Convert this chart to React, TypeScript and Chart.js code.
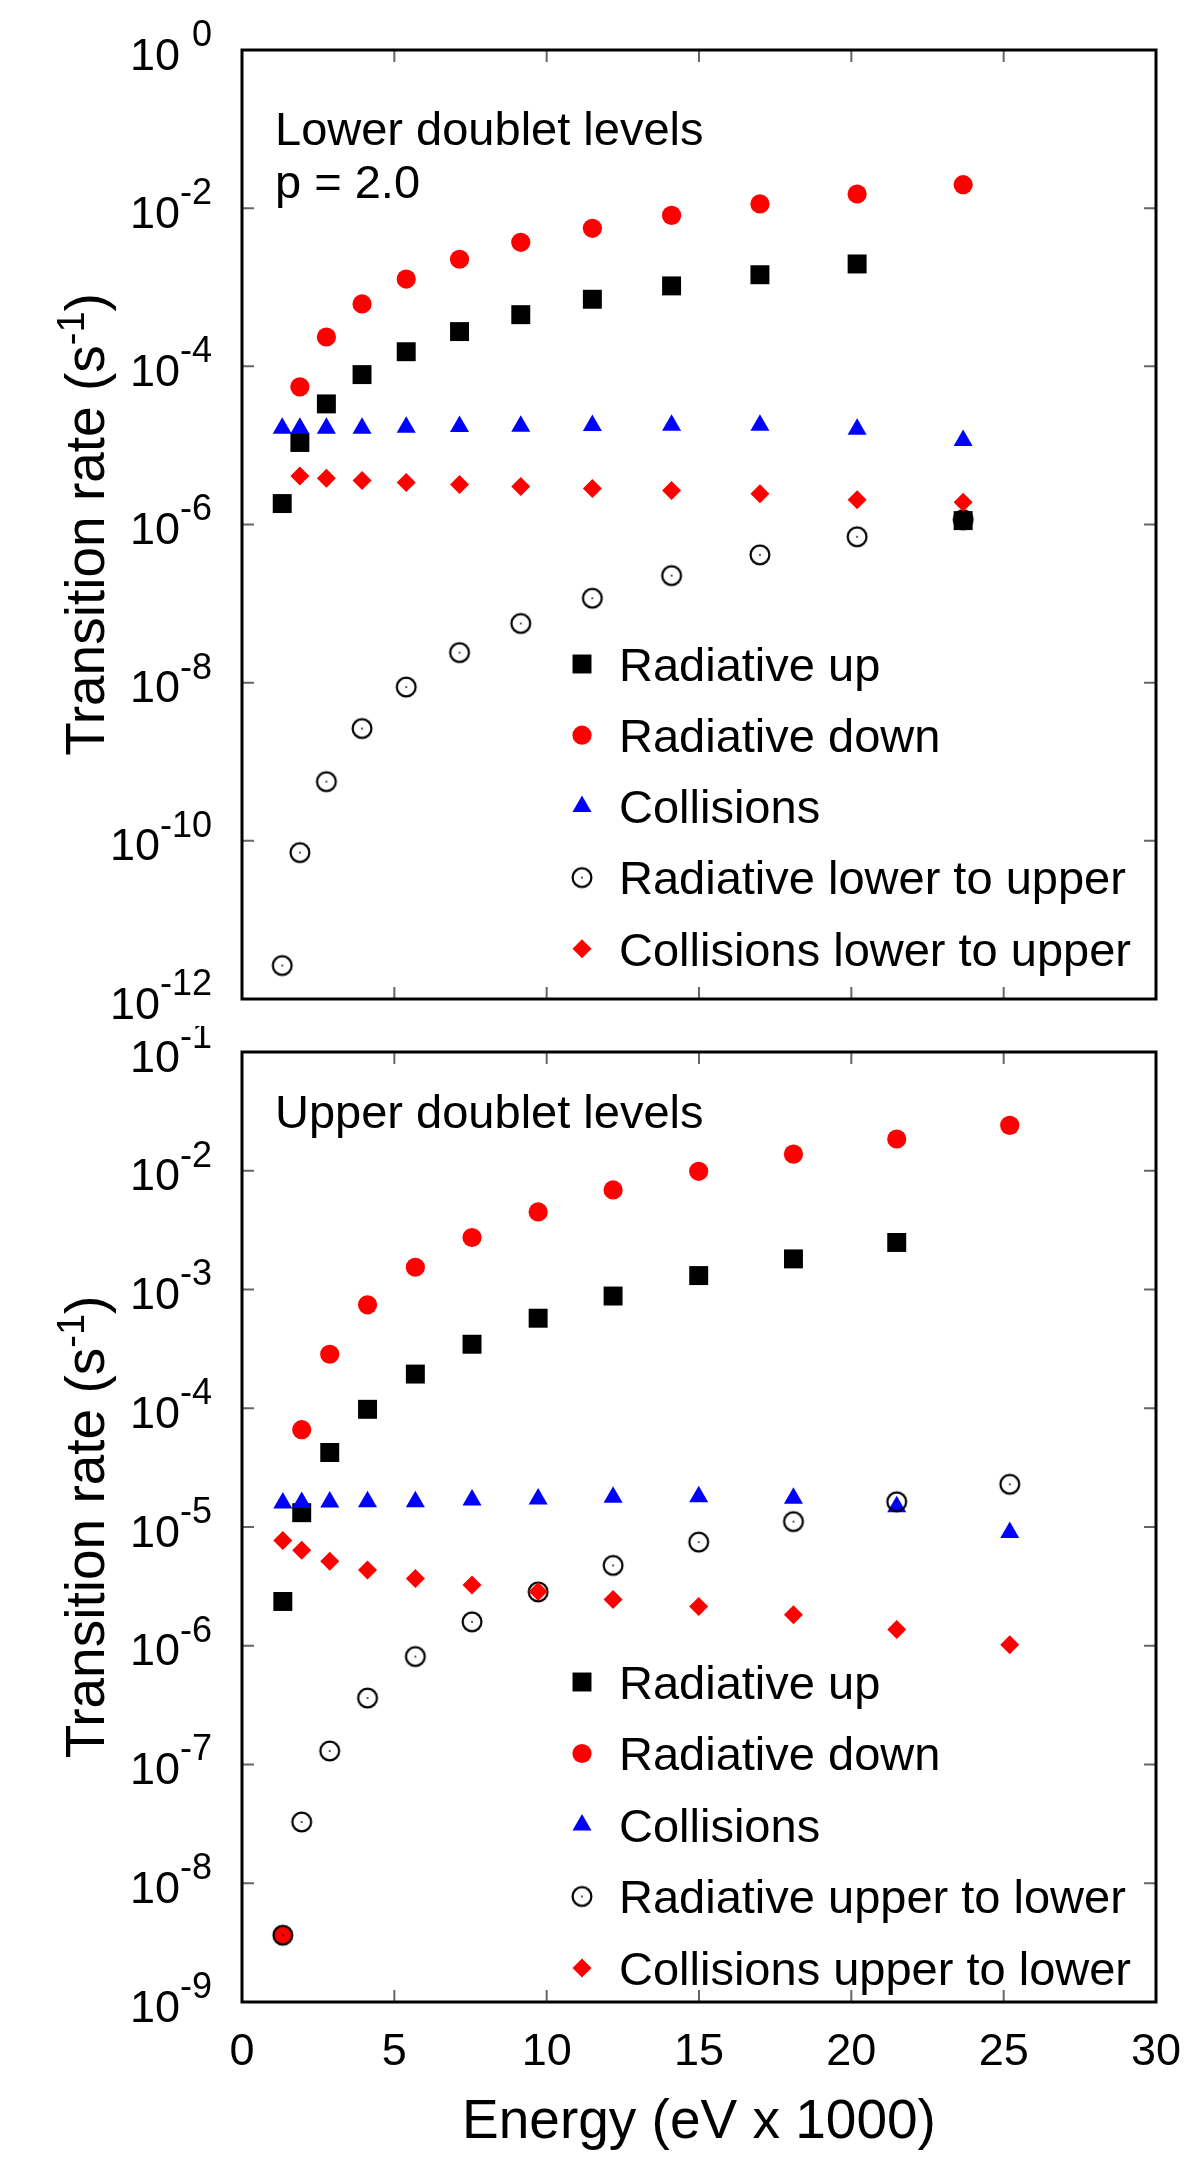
import React, { useEffect, useRef } from "react";
import Chart from "chart.js/auto";
import { drawPoint } from "chart.js/helpers";

// energies (eV x 1000) of the plotted levels
const TOP_ENERGY = [1.32, 1.9, 2.77, 3.94, 5.39, 7.14, 9.15, 11.5, 14.1, 17.0, 20.19, 23.67];
const BOTTOM_ENERGY = [1.34, 1.96, 2.88, 4.12, 5.69, 7.55, 9.72, 12.18, 14.99, 18.1, 21.49, 25.2];

// lower doublet levels (s^-1)
const TOP_RAD_UP = [1.84e-6, 1.09e-5, 3.35e-5, 7.86e-5, 1.53e-4, 2.75e-4, 4.5e-4, 7.05e-4, 1.04e-3, 1.44e-3, 1.97e-3, 1.12e-6];
const TOP_RAD_DOWN = [null, 5.5e-5, 2.35e-4, 6.15e-4, 1.27e-3, 2.26e-3, 3.7e-3, 5.56e-3, 8.1e-3, 1.13e-2, 1.51e-2, 1.98e-2];
const TOP_COLL = [1.65e-5, 1.65e-5, 1.65e-5, 1.65e-5, 1.7e-5, 1.73e-5, 1.75e-5, 1.78e-5, 1.8e-5, 1.8e-5, 1.6e-5, 1.15e-5];
const TOP_RAD_CROSS = [2.65e-12, 7.1e-11, 5.6e-10, 2.63e-9, 8.8e-9, 2.4e-8, 5.6e-8, 1.17e-7, 2.26e-7, 4.13e-7, 7.0e-7, 1.15e-6];
const TOP_COLL_CROSS = [null, 4.1e-6, 3.85e-6, 3.59e-6, 3.39e-6, 3.2e-6, 3.02e-6, 2.85e-6, 2.69e-6, 2.44e-6, 2.05e-6, 1.91e-6];

// upper doublet levels (s^-1)
const BOT_RAD_UP = [2.36e-6, 1.32e-5, 4.24e-5, 9.8e-5, 1.94e-4, 3.46e-4, 5.73e-4, 8.81e-4, 1.31e-3, 1.81e-3, 2.49e-3, null];
const BOT_RAD_DOWN = [3.65e-9, 6.6e-5, 2.85e-4, 7.43e-4, 1.54e-3, 2.74e-3, 4.5e-3, 6.89e-3, 9.89e-3, 1.38e-2, 1.85e-2, 2.41e-2];
const BOT_COLL = [1.59e-5, 1.61e-5, 1.62e-5, 1.63e-5, 1.63e-5, 1.69e-5, 1.72e-5, 1.78e-5, 1.8e-5, 1.75e-5, 1.48e-5, 9.0e-6];
const BOT_RAD_CROSS = [3.65e-9, 3.28e-8, 1.3e-7, 3.63e-7, 8.11e-7, 1.59e-6, 2.84e-6, 4.75e-6, 7.46e-6, 1.11e-5, 1.63e-5, 2.29e-5];
const BOT_COLL_CROSS = [7.69e-6, 6.38e-6, 5.15e-6, 4.34e-6, 3.68e-6, 3.25e-6, 2.86e-6, 2.45e-6, 2.14e-6, 1.82e-6, 1.37e-6, 1.02e-6];

const X_TICKS = [0, 5, 10, 15, 20, 25, 30];
const TOP_Y_EXP = [0, -2, -4, -6, -8, -10, -12];
const BOTTOM_Y_EXP = [-1, -2, -3, -4, -5, -6, -7, -8, -9];

const TOP_LABELS = ["Radiative up", "Radiative down", "Collisions", "Radiative lower to upper", "Collisions lower to upper"];
const BOTTOM_LABELS = ["Radiative up", "Radiative down", "Collisions", "Radiative upper to lower", "Collisions upper to lower"];

const FONT = "'Liberation Sans', Arial, Helvetica, sans-serif";

function openCircle() {
  const c = document.createElement("canvas");
  c.width = 26;
  c.height = 26;
  const g = c.getContext("2d")!;
  g.strokeStyle = "#000";
  g.lineWidth = 2.2;
  g.beginPath();
  g.arc(13, 13, 9.4, 0, Math.PI * 2);
  g.stroke();
  g.fillStyle = "#000";
  g.fillRect(12.2, 12.2, 1.6, 1.6);
  return c;
}

type PanelProps = {
  top: number;
  height: number;
  padTop: number;
  padBottom: number;
  yMin: number;
  yMax: number;
  exps: number[];
  energy: number[];
  series: (number | null)[][];
  labels: string[];
  notes: string[];
  noteY: number;
  legendY: number;
  legendStep: number;
  xAxis: boolean;
};

const Panel = (p: PanelProps) => {
  const ref = useRef<HTMLCanvasElement>(null);

  useEffect(() => {
    const ctx = ref.current!.getContext("2d")!;
    const open = openCircle();
    const styles: any[] = [
      { pointStyle: "rect", radius: 13.4, color: "#000000" },
      { pointStyle: "circle", radius: 9.6, color: "#ff0000" },
      { pointStyle: "triangle", radius: 11, color: "#0000ff" },
      { pointStyle: open, radius: 10, color: "#000000" },
      { pointStyle: "rectRot", radius: 9.5, color: "#ff0000" },
    ];

    const datasets = p.series.map((vals, i) => ({
      label: p.labels[i],
      data: vals
        .map((v, k) => ({ x: p.energy[k], y: v }))
        .filter((d) => d.y !== null),
      showLine: false,
      pointStyle: styles[i].pointStyle,
      pointRadius: styles[i].radius,
      pointHoverRadius: styles[i].radius,
      pointBackgroundColor: styles[i].color,
      pointBorderWidth: 0,
      order: p.series.length - i,
    }));

    const decor = {
      id: "decor",
      afterDatasetsDraw(chart: any) {
        const c = chart.ctx as CanvasRenderingContext2D;
        const { left, right, top, bottom } = chart.chartArea;
        const xs = chart.scales.x;
        const ys = chart.scales.y;
        c.save();

        // inward ticks
        c.strokeStyle = "#666";
        c.lineWidth = 2;
        c.beginPath();
        for (const v of X_TICKS) {
          const px = xs.getPixelForValue(v);
          c.moveTo(px, bottom);
          c.lineTo(px, bottom - 12);
          c.moveTo(px, top);
          c.lineTo(px, top + 12);
        }
        for (const e of p.exps) {
          const py = ys.getPixelForValue(Math.pow(10, e));
          c.moveTo(left, py);
          c.lineTo(left + 12, py);
          c.moveTo(right, py);
          c.lineTo(right - 12, py);
        }
        c.stroke();

        // frame
        c.strokeStyle = "#000";
        c.lineWidth = 3;
        c.strokeRect(left, top, right - left, bottom - top);

        // y tick labels 10^n
        c.fillStyle = "#000";
        c.textAlign = "right";
        c.textBaseline = "alphabetic";
        const lx = left - 30;
        for (const e of p.exps) {
          const py = ys.getPixelForValue(Math.pow(10, e));
          const sup = e === 0 ? "0" : "-" + String(-e);
          c.font = `36px ${FONT}`;
          c.fillText(sup, lx, py - 17 + 0.358 * 36);
          const w = c.measureText(e === 0 ? "-0" : sup).width;
          c.font = `45px ${FONT}`;
          c.fillText("10", lx - w, py + 3.5 + 0.358 * 45);
        }

        // y title
        c.save();
        c.translate(84, (top + bottom) / 2);
        c.rotate(-Math.PI / 2);
        c.textAlign = "left";
        const main = "Transition rate (s";
        const supT = "-1";
        c.font = `55px ${FONT}`;
        const w1 = c.measureText(main).width;
        const w3 = c.measureText(")").width;
        c.font = `38px ${FONT}`;
        const w2 = c.measureText(supT).width;
        let sx = -(w1 + w2 + w3) / 2;
        const base = 0.358 * 55;
        c.font = `55px ${FONT}`;
        c.fillText(main, sx, base);
        sx += w1;
        c.font = `38px ${FONT}`;
        c.fillText(supT, sx, base - 20);
        sx += w2;
        c.font = `55px ${FONT}`;
        c.fillText(")", sx, base);
        c.restore();

        // panel notes
        c.textAlign = "left";
        c.font = `47px ${FONT}`;
        p.notes.forEach((t, i) => c.fillText(t, 275, p.noteY + i * 53));

        // legend
        chart.data.datasets.forEach((ds: any, i: number) => {
          const y = p.legendY + i * p.legendStep;
          c.fillStyle = styles[i].color;
          drawPoint(
            c,
            { pointStyle: styles[i].pointStyle, radius: styles[i].radius, rotation: 0, borderWidth: 0 } as any,
            582,
            y
          );
          c.fillStyle = "#000";
          c.font = `47px ${FONT}`;
          c.fillText(ds.label, 619, y + 0.358 * 47);
        });

        // x axis labels
        if (p.xAxis) {
          c.textAlign = "center";
          c.font = `45px ${FONT}`;
          for (const v of X_TICKS) {
            c.fillText(String(v), xs.getPixelForValue(v), bottom + 47 + 0.358 * 45);
          }
          c.font = `55px ${FONT}`;
          c.fillText("Energy (eV x 1000)", (left + right) / 2, bottom + 116 + 0.358 * 55);
        }
        c.restore();
      },
    };

    const chart = new Chart(ctx, {
      type: "scatter",
      data: { datasets },
      options: {
        animation: false,
        responsive: false,
        maintainAspectRatio: false,
        events: [],
        layout: { padding: { left: 242, right: 44, top: p.padTop, bottom: p.padBottom } },
        plugins: { legend: { display: false }, tooltip: { enabled: false } },
        scales: {
          x: { type: "linear", min: 0, max: 30, display: false },
          y: { type: "logarithmic", min: p.yMin, max: p.yMax, display: false },
        },
      },
      plugins: [decor],
    });

    return () => chart.destroy();
  }, []);

  return (
    <canvas
      ref={ref}
      width={1200}
      height={p.height}
      style={{ position: "absolute", left: 0, top: p.top, width: 1200, height: p.height, display: "block" }}
    />
  );
};

export default function App() {
  return (
    <div style={{ position: "absolute", left: 0, top: 0, width: 1200, height: 2159, background: "#fff" }}>
      <Panel
        top={0}
        height={1026}
        padTop={50}
        padBottom={27}
        yMin={1e-12}
        yMax={1}
        exps={TOP_Y_EXP}
        energy={TOP_ENERGY}
        series={[TOP_RAD_UP, TOP_RAD_DOWN, TOP_COLL, TOP_RAD_CROSS, TOP_COLL_CROSS]}
        labels={TOP_LABELS}
        notes={["Lower doublet levels", "p = 2.0"]}
        noteY={145}
        legendY={664}
        legendStep={71.2}
        xAxis={false}
      />
      <Panel
        top={1026}
        height={1133}
        padTop={26}
        padBottom={157}
        yMin={1e-9}
        yMax={1e-1}
        exps={BOTTOM_Y_EXP}
        energy={BOTTOM_ENERGY}
        series={[BOT_RAD_UP, BOT_RAD_DOWN, BOT_COLL, BOT_RAD_CROSS, BOT_COLL_CROSS]}
        labels={BOTTOM_LABELS}
        notes={["Upper doublet levels"]}
        noteY={102}
        legendY={656}
        legendStep={71.5}
        xAxis={true}
      />
    </div>
  );
}
